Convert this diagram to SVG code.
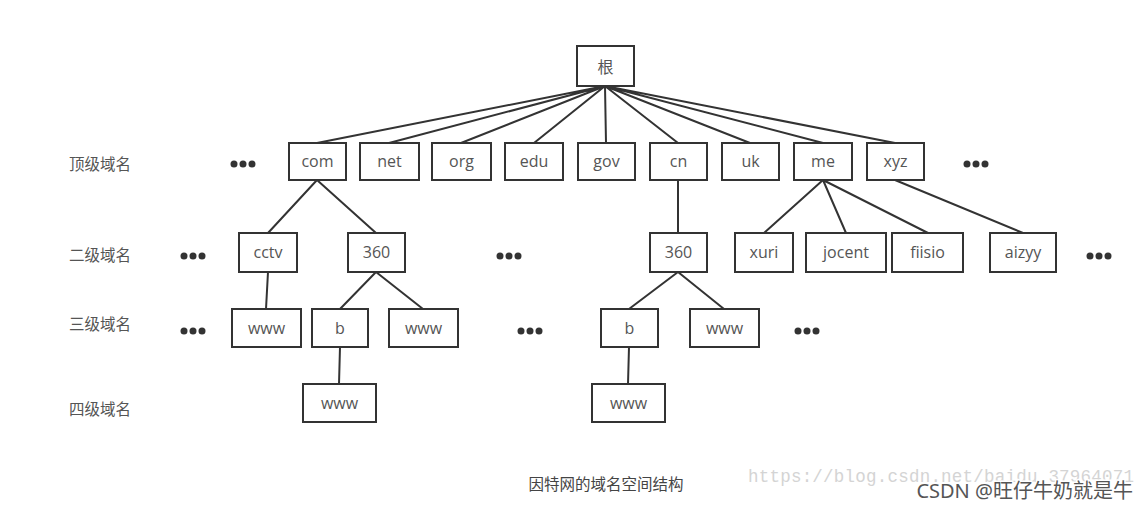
<svg xmlns="http://www.w3.org/2000/svg" width="1148" height="508" viewBox="0 0 1148 508">
<style>
.box{fill:#fff;stroke:#333;stroke-width:2}
.t{font-family:"Open Sans","Noto Sans",sans-serif;font-size:16px;fill:#555;text-anchor:middle;dominant-baseline:central}
.lbl{font-family:"Noto Sans CJK SC","Noto Sans",sans-serif;font-size:15.5px;fill:#555;dominant-baseline:central}
.dot{fill:#333}
.ln{stroke:#333;stroke-width:2;fill:none}
</style>
<rect width="1148" height="508" fill="#fff"/>
<g id="connectors" class="ln">
<path d="M605,86L317,143M605,86L389,143M605,86L461,143M605,86L534,143M605,86L606,143M605,86L678,143M605,86L750,143M605,86L823,143M605,86L895,143"/>
<path d="M317,180L268,233M317,180L376,233M678,180L678,233M823,180L764,233M823,180L846,233M823,180L928,233M895,180L1023,233"/>
<path d="M268,272L266,309M376,272L340,309M376,272L423,309M678,272L629,309M678,272L724,309"/>
<path d="M340,347L339,384M629,347L628,384"/>
</g>
<g id="levels">
<text class="lbl" x="69" y="163">顶级域名</text>
<text class="lbl" x="69" y="254">二级域名</text>
<text class="lbl" x="69" y="323">三级域名</text>
<text class="lbl" x="69" y="408">四级域名</text>
</g>
<g id="dots" class="dot">
<circle cx="234" cy="164" r="3.5"/><circle cx="243" cy="164" r="3.5"/><circle cx="252" cy="164" r="3.5"/>
<circle cx="967" cy="164" r="3.5"/><circle cx="976" cy="164" r="3.5"/><circle cx="985" cy="164" r="3.5"/>
<circle cx="184" cy="256" r="3.5"/><circle cx="193" cy="256" r="3.5"/><circle cx="202" cy="256" r="3.5"/>
<circle cx="500" cy="256" r="3.5"/><circle cx="509" cy="256" r="3.5"/><circle cx="518" cy="256" r="3.5"/>
<circle cx="1090" cy="256" r="3.5"/><circle cx="1099" cy="256" r="3.5"/><circle cx="1108" cy="256" r="3.5"/>
<circle cx="184" cy="331" r="3.5"/><circle cx="193" cy="331" r="3.5"/><circle cx="202" cy="331" r="3.5"/>
<circle cx="521" cy="331" r="3.5"/><circle cx="530" cy="331" r="3.5"/><circle cx="539" cy="331" r="3.5"/>
<circle cx="798" cy="331" r="3.5"/><circle cx="807" cy="331" r="3.5"/><circle cx="816" cy="331" r="3.5"/>
</g>
<g id="root"><rect class="box" x="577" y="46" width="57" height="40"/><text class="t" x="605.5" y="66" style="font-family:'Noto Sans CJK SC',sans-serif">根</text></g>
<g id="com"><rect class="box" x="289" y="143" width="57" height="37"/><text class="t" x="317.5" y="161">com</text></g>
<g id="net"><rect class="box" x="360" y="143" width="59" height="37"/><text class="t" x="389.5" y="161">net</text></g>
<g id="org"><rect class="box" x="432" y="143" width="59" height="37"/><text class="t" x="461.5" y="161">org</text></g>
<g id="edu"><rect class="box" x="505" y="143" width="58" height="37"/><text class="t" x="534" y="161">edu</text></g>
<g id="gov"><rect class="box" x="578" y="143" width="57" height="37"/><text class="t" x="606.5" y="161">gov</text></g>
<g id="cn"><rect class="box" x="650" y="143" width="57" height="37"/><text class="t" x="678.5" y="161">cn</text></g>
<g id="uk"><rect class="box" x="722" y="143" width="57" height="37"/><text class="t" x="750.5" y="161">uk</text></g>
<g id="me"><rect class="box" x="794" y="143" width="58" height="37"/><text class="t" x="823" y="161">me</text></g>
<g id="xyz"><rect class="box" x="867" y="143" width="57" height="37"/><text class="t" x="895.5" y="161">xyz</text></g>
<g id="cctv"><rect class="box" x="239" y="233" width="58" height="39"/><text class="t" x="268" y="252">cctv</text></g>
<g id="com360"><rect class="box" x="348" y="233" width="57" height="39"/><text class="t" x="376.5" y="252">360</text></g>
<g id="cn360"><rect class="box" x="650" y="233" width="57" height="39"/><text class="t" x="678.5" y="252">360</text></g>
<g id="xuri"><rect class="box" x="735" y="233" width="58" height="39"/><text class="t" x="764" y="252">xuri</text></g>
<g id="jocent"><rect class="box" x="806" y="233" width="80" height="39"/><text class="t" x="846" y="252">jocent</text></g>
<g id="fiisio"><rect class="box" x="892" y="233" width="71" height="39"/><text class="t" x="927.5" y="252">fiisio</text></g>
<g id="aizyy"><rect class="box" x="990" y="233" width="66" height="39"/><text class="t" x="1023" y="252">aizyy</text></g>
<g id="cctv-www"><rect class="box" x="232" y="309" width="69" height="38"/><text class="t" x="266.5" y="328">www</text></g>
<g id="com360-b"><rect class="box" x="312" y="309" width="56" height="38"/><text class="t" x="340" y="328">b</text></g>
<g id="com360-www"><rect class="box" x="389" y="309" width="69" height="38"/><text class="t" x="423.5" y="328">www</text></g>
<g id="cn360-b"><rect class="box" x="601" y="309" width="57" height="38"/><text class="t" x="629.5" y="328">b</text></g>
<g id="cn360-www"><rect class="box" x="690" y="309" width="69" height="38"/><text class="t" x="724.5" y="328">www</text></g>
<g id="com-b-www"><rect class="box" x="303" y="384" width="73" height="38"/><text class="t" x="339.5" y="403">www</text></g>
<g id="cn-b-www"><rect class="box" x="592" y="384" width="73" height="38"/><text class="t" x="628.5" y="403">www</text></g>
<g id="caption">
<text x="606" y="483" style="font-family:'Noto Sans CJK SC',sans-serif;font-size:15.5px;fill:#444;text-anchor:middle;dominant-baseline:central">因特网的域名空间结构</text>
<text x="748" y="482" textLength="386" style="font-family:'Liberation Mono',monospace;font-size:17.5px;fill:#d4d4d4">https://blog.csdn.net/baidu_37964071</text>
<text x="1133" y="498" style="font-family:'Noto Sans','Noto Sans CJK SC',sans-serif;font-size:20px;fill:#555;text-anchor:end;stroke:#fff;stroke-width:3;paint-order:stroke">CSDN @旺仔牛奶就是牛</text>
</g>
</svg>
